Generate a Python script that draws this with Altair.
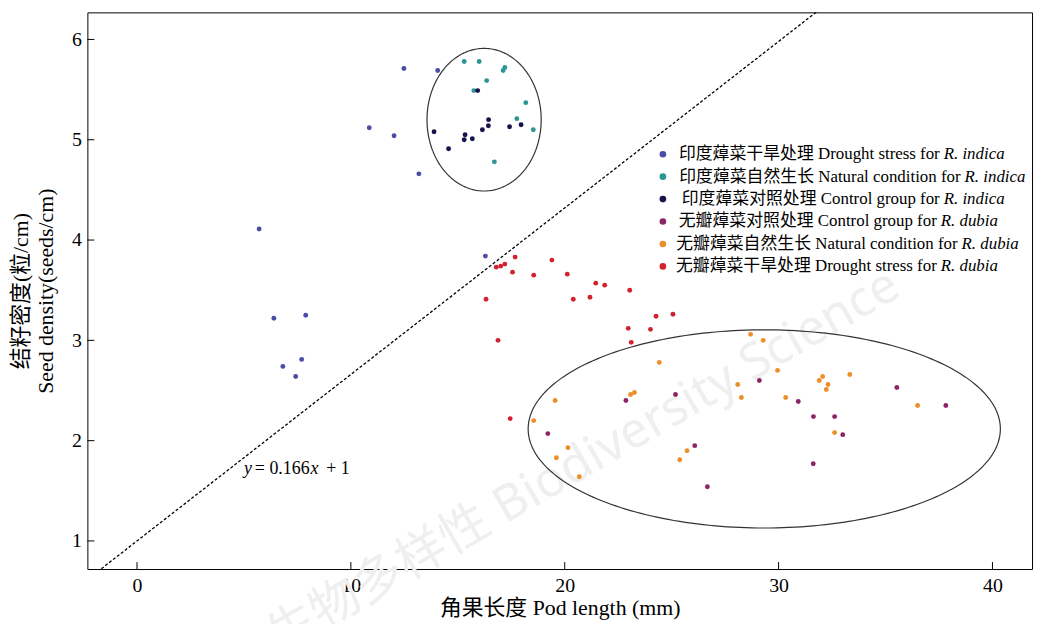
import altair as alt
import numpy as np
import pandas as pd

# ---------------- data ----------------
drought_indica_x = [5.71, 12.48, 14.06, 10.86, 12.02, 13.18, 6.40, 7.89, 6.82, 7.70, 7.42, 16.29]
drought_indica_y = [4.11, 5.71, 5.69, 5.12, 5.04, 4.66, 3.22, 3.25, 2.74, 2.81, 2.64, 3.84]

natural_indica_x = [15.30, 16.00, 17.20, 17.12, 16.35, 15.75, 18.18, 17.76, 18.53, 16.71]
natural_indica_y = [5.78, 5.78, 5.72, 5.69, 5.59, 5.49, 5.37, 5.21, 5.10, 4.78]

control_indica_x = [15.93, 16.44, 16.43, 16.15, 17.42, 17.96, 13.89, 15.34, 15.30, 15.68, 14.57]
control_indica_y = [5.49, 5.20, 5.14, 5.10, 5.13, 5.15, 5.08, 5.05, 5.00, 5.01, 4.91]

control_dubia_x = [29.10, 30.92, 31.63, 32.62, 33.00, 31.62, 25.18, 22.86, 19.21, 26.08, 26.67, 35.53, 37.82]
control_dubia_y = [2.60, 2.39, 2.24, 2.24, 2.06, 1.77, 2.46, 2.40, 2.07, 1.95, 1.54, 2.53, 2.35]

natural_dubia_x = [28.69, 29.28, 24.42, 29.95, 33.33, 32.06, 31.90, 32.31, 32.23, 28.09, 28.26, 30.33,
                   23.08, 23.26, 19.55, 18.55, 20.15, 19.61, 20.68, 25.72, 25.38, 32.62, 36.50]
natural_dubia_y = [3.06, 3.00, 2.78, 2.70, 2.66, 2.64, 2.60, 2.56, 2.51, 2.56, 2.43, 2.43,
                   2.46, 2.48, 2.40, 2.20, 1.93, 1.83, 1.64, 1.90, 1.81, 2.08, 2.35]

drought_dubia_x = [17.68, 16.80, 17.01, 17.20, 17.56, 18.55, 19.40, 20.12, 16.32, 16.88, 20.40,
                   21.18, 21.45, 21.87, 23.04, 24.27, 25.06, 22.97, 24.01, 23.11, 17.45]
drought_dubia_y = [3.83, 3.73, 3.74, 3.76, 3.68, 3.65, 3.80, 3.66, 3.41, 3.00, 3.41,
                   3.43, 3.57, 3.55, 3.50, 3.24, 3.26, 3.12, 3.11, 2.98, 2.22]

group_keys = ["drought_indica", "natural_indica", "control_indica",
              "control_dubia", "natural_dubia", "drought_dubia"]
group_labels = [
    "印度蔊菜干旱处理 Drought stress for",
    "印度蔊菜自然生长 Natural condition for",
    "印度蔊菜对照处理 Control group for",
    "无瓣蔊菜对照处理 Control group for",
    "无瓣蔊菜自然生长 Natural condition for",
    "无瓣蔊菜干旱处理 Drought stress for",
]
group_species = ["R. indica", "R. indica", "R. indica", "R. dubia", "R. dubia", "R. dubia"]
group_colors = ["#4b4ba8", "#2f9494", "#15134b", "#8c2466", "#ec8f28", "#d2222f"]

x_ticks = [0, 10, 20, 30, 40]
y_ticks = [1, 2, 3, 4, 5, 6]

line_slope = 0.166
line_intercept = 1.0
line_x_ends = [-2.4, 33.0]

# ellipses: centre x, centre y, radius x, radius y (data units)
ellipses = [(16.23, 5.20, 2.67, 0.711), (29.33, 2.117, 11.04, 0.988)]

# ---------------- layout ----------------
W, H = 952, 561
X_DOM = [-2.32, 41.85]
Y_DOM = [0.72, 6.27]
SERIF = "Liberation Serif, Noto Sans CJK SC, serif"
LATIN = "Liberation Serif, serif"

all_x = [drought_indica_x, natural_indica_x, control_indica_x,
         control_dubia_x, natural_dubia_x, drought_dubia_x]
all_y = [drought_indica_y, natural_indica_y, control_indica_y,
         control_dubia_y, natural_dubia_y, drought_dubia_y]
pts = pd.concat([pd.DataFrame({"x": xs_, "y": ys_, "g": k})
                 for xs_, ys_, k in zip(all_x, all_y, group_keys)], ignore_index=True)

xs = alt.Scale(domain=X_DOM, nice=False, zero=False)
ys = alt.Scale(domain=Y_DOM, nice=False, zero=False)
xaxis = alt.Axis(values=x_ticks, ticks=False, domain=False, grid=False,
                 labelPadding=7, titlePadding=2, format="d")
yaxis = alt.Axis(values=y_ticks, ticks=False, domain=False, grid=False,
                 labelPadding=6, titlePadding=14, format="d", titleLineHeight=25)


def X():
    return alt.X("x:Q", scale=xs, axis=xaxis, title="角果长度 Pod length (mm)")


def Y():
    return alt.Y("y:Q", scale=ys, axis=yaxis,
                 title=["结籽密度(粒/cm)", "Seed density(seeds/cm)"])


color = alt.Color("g:N", scale=alt.Scale(domain=group_keys, range=group_colors), legend=None)

watermark = alt.Chart(pd.DataFrame({"t": ["生物多样性 Biodiversity Science"]})).mark_text(
    angle=330, fontSize=50, color="#efefef", font="Noto Sans, Noto Sans CJK SC, sans-serif",
    align="center", baseline="middle"
).encode(x=alt.value(500), y=alt.value(453), text="t:N")

line_df = pd.DataFrame({"x": line_x_ends,
                        "y": [line_slope * v + line_intercept for v in line_x_ends]})
ref_line = alt.Chart(line_df).mark_line(clip=True, color="black", strokeDash=[3, 2],
                                        strokeWidth=1.3).encode(X(), Y())

theta = np.linspace(0, 2 * np.pi, 241)
ell_df = pd.concat([pd.DataFrame({"x": cx + rx * np.cos(theta), "y": cy + ry * np.sin(theta),
                                  "k": np.arange(len(theta)), "id": i})
                    for i, (cx, cy, rx, ry) in enumerate(ellipses)], ignore_index=True)
ell = alt.Chart(ell_df).mark_line(color="#333333", strokeWidth=1.2).encode(
    X(), Y(), detail="id:N", order="k:Q")

points = alt.Chart(pts).mark_circle(size=24, opacity=1).encode(X(), Y(), color=color)

xt = alt.Chart(pd.DataFrame({"x": x_ticks})).mark_rule(color="black").encode(
    X(), y=alt.value(H), y2=alt.value(H - 7))
yt = alt.Chart(pd.DataFrame({"y": y_ticks})).mark_rule(color="black").encode(
    Y(), x=alt.value(0), x2=alt.value(7))

eq_df = pd.DataFrame({"x": [5.0], "y": [1.72]})
eq_parts = [("y", "italic", 0), ("= 0.166", "normal", 11), ("x", "italic", 67), ("+ 1", "normal", 83)]
eq_layers = [
    alt.Chart(eq_df).mark_text(text=t, fontStyle=st, dx=dx, align="left", baseline="middle",
                               font=LATIN, fontSize=18, color="black").encode(X(), Y())
    for t, st, dx in eq_parts
]

main = alt.layer(watermark, ell, ref_line, points, xt, yt, *eq_layers)

# ---------------- manual legend (mixed roman / italic text) ----------------
leg_row_y = [143 + i * 22.6 for i in range(6)]
leg_italic_x = [863, 884, 863, 860, 881, 860]
leg_df = pd.DataFrame({
    "g": group_keys, "lab": group_labels, "sp": group_species,
    "ly": leg_row_y, "mx": [580] * 6,
    "ix": leg_italic_x, "ex": [v - 4 for v in leg_italic_x],
})
LX = lambda f: alt.X(f"{f}:Q", scale=None, axis=None)
LY = alt.Y("ly:Q", scale=None, axis=None)
leg_marks = alt.Chart(leg_df).mark_circle(size=45, opacity=1).encode(x=LX("mx"), y=LY, color=color)
leg_text = alt.Chart(leg_df).mark_text(align="right", baseline="middle", font=SERIF,
                                       fontSize=17, color="black").encode(
    x=LX("ex"), y=LY, text="lab:N")
leg_it = alt.Chart(leg_df).mark_text(align="left", baseline="middle", font=LATIN,
                                     fontStyle="italic", fontSize=17, color="black").encode(
    x=LX("ix"), y=LY, text="sp:N")
legend = alt.layer(leg_marks, leg_text, leg_it)

chart = alt.layer(main, legend).resolve_scale(x="independent", y="independent").properties(
    width=W, height=H,
    padding={"left": 80, "top": 2, "right": 3, "bottom": 53},
    autosize=alt.AutoSizeParams(type="none"),
).configure_view(stroke="black", strokeWidth=1).configure_axis(
    labelFont=LATIN, labelFontSize=20, labelColor="black",
    titleFont=SERIF, titleFontSize=22, titleFontWeight="normal", titleColor="black",
)

chart.save("out.html", embed_options={"renderer": "svg", "actions": False})
